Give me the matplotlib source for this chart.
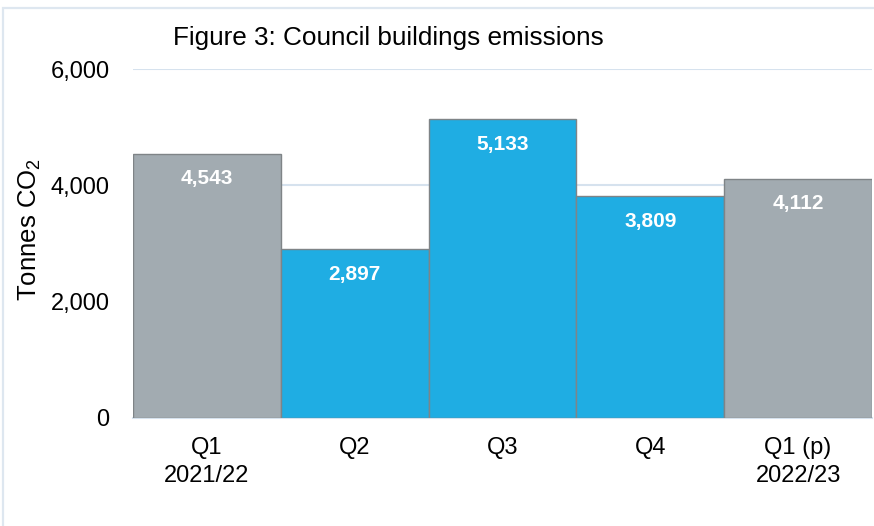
import matplotlib
matplotlib.use("Agg")
import matplotlib.pyplot as plt
from matplotlib.patches import Rectangle

plt.rcParams['font.family'] = ['Liberation Sans', 'DejaVu Sans']
plt.rcParams['mathtext.fontset'] = 'custom'
plt.rcParams['mathtext.rm'] = 'Liberation Sans'
plt.rcParams['mathtext.it'] = 'Liberation Sans:italic'
plt.rcParams['mathtext.bf'] = 'Liberation Sans:bold'

categories = ["Q1\n2021/22", "Q2", "Q3", "Q4", "Q1 (p)\n2022/23"]
values = [4543, 2897, 5133, 3809, 4112]
bar_colors = ["#A2ABB1", "#1FADE3", "#1FADE3", "#1FADE3", "#A2ABB1"]
yticks = [0, 2000, 4000, 6000]
title = "Figure 3: Council buildings emissions"
ylabel = "Tonnes CO$_2$"

W, H = 874, 526
fig = plt.figure(figsize=(W / 100, H / 100), dpi=100)

# outer border
fig.patches.append(Rectangle((3 / W, -0.05), 1.1, 1 - 8 / H + 0.05,
                             transform=fig.transFigure, fill=False,
                             edgecolor="#DEE7F0", linewidth=1.6))

ax = fig.add_axes([133 / W, 1 - 418 / H, (872 - 133) / W, (418 - 69) / H])
x = list(range(len(values)))
ax.bar(x, values, width=1.0, color=bar_colors, edgecolor="#7F8487",
       linewidth=1.0, zorder=3)
ax.set_xlim(-0.5, len(values) - 0.5)
ax.set_ylim(0, 6000)
ax.set_yticks(yticks)
ax.set_yticklabels([f"{v:,}" for v in yticks], fontsize=17)
ax.set_xticks(x)
ax.set_xticklabels(categories, fontsize=17, linespacing=1.3)
ax.tick_params(axis="y", length=0, pad=17)
ax.tick_params(axis="x", length=0, pad=14)
for s in ["top", "right", "left"]:
    ax.spines[s].set_visible(False)
ax.spines["bottom"].set_color("#D6E2EE")
ax.spines["bottom"].set_linewidth(1.5)
ax.yaxis.grid(True, color="#D6E2EE", linewidth=1.5, zorder=0)
ax.set_axisbelow(True)

for xi, v in zip(x, values):
    ax.annotate(f"{v:,}", (xi, v), xytext=(0, -18), textcoords="offset points",
                ha="center", va="center", color="white", fontsize=15,
                fontweight="bold", zorder=5)

fig.text(173 / W, 1 - 38 / H, title, fontsize=18.8, ha="left", va="center")
fig.text(30 / W, 1 - 229 / H, ylabel, fontsize=18.5, rotation=90,
         ha="center", va="center")

fig.savefig("out.png", dpi=100)
